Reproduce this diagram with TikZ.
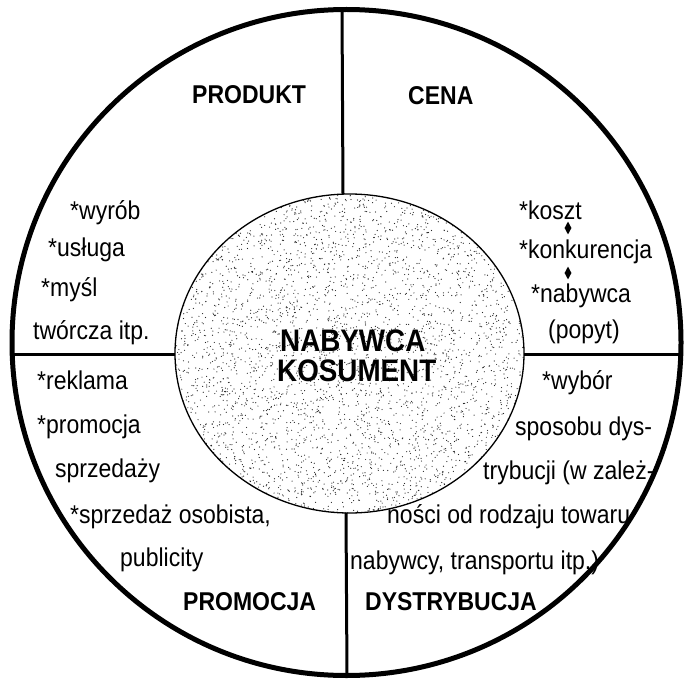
\documentclass[tikz,border=0pt]{standalone}
\usepackage{fontspec}
\setmainfont{Liberation Sans}
\usetikzlibrary{shapes.geometric}
\newcommand{\tallt}[1]{\scalebox{1}[1.12]{#1}}
\begin{document}
\begin{tikzpicture}[x=1pt,y=-1pt,
  txt/.style={anchor=base west,inner sep=0pt,font=\fontsize{23}{27}\selectfont},
  lbl/.style={anchor=base west,inner sep=0pt,font=\fontsize{23}{27}\selectfont\bfseries},
  biglbl/.style={anchor=base west,inner sep=0pt,font=\fontsize{27.8}{32}\selectfont\bfseries},
  divider/.style={line width=3pt},
  sep/.style={diamond,fill=black,inner sep=0pt,minimum width=7pt,minimum height=13pt}]
\useasboundingbox (0,0) rectangle (685,682);
\fill[white] (0,0) rectangle (685,682);
% stippled centre
\begin{scope}
  \clip (349.5,353.5) ellipse [x radius=174.5,y radius=159.5];
  \pgfmathsetseed{7}
  \foreach \i in {1,...,4200}{
    \pgfmathsetmacro{\px}{175+349*rnd}
    \pgfmathsetmacro{\py}{194+319*rnd}
    \fill[black!85] (\px,\py) circle (0.6pt);
  }
\end{scope}
\draw[line width=1.3pt] (349.5,353.5) ellipse [x radius=174.5,y radius=159.5];
\coordinate (ctop) at (343,194);
\coordinate (cbot) at (346,513);
\coordinate (cleft) at (175,354);
\coordinate (cright) at (524,354);
\coordinate (otop) at (342,9);
\coordinate (obot) at (347,676);
\coordinate (oleft) at (12,354);
\coordinate (oright) at (681,354);
\draw[divider] (otop) -- (ctop);
\draw[divider] (cbot) -- (obot);
\draw[divider] (oleft) -- (cleft);
\draw[divider] (cright) -- (oright);
\draw[line width=5pt] (346.5,342.5) ellipse [x radius=334.5,y radius=333];
% labels
\node[lbl] (produkt) at (192,104) {\tallt{PRODUKT}};
\node[lbl] (cena) at (408,105) {\tallt{CENA}};
\node[lbl] (promocja) at (183,610) {\tallt{PROMOCJA}};
\node[lbl] (dystr) at (365,610) {\tallt{DYSTRYBUCJA}};
\node[biglbl] (nab) at (280,351) {\tallt{NABYWCA}};
\node[biglbl] (kos) at (277,381) {\tallt{KOSUMENT}};
% produkt
\node[txt] (p1) at (70,219) {\tallt{*wyrób}};
\node[txt] (p2) at (48,256) {\tallt{*usługa}};
\node[txt] (p3) at (41,296) {\tallt{*myśl}};
\node[txt] (p4) at (33,339) {\tallt{twórcza itp.}};
% cena
\node[txt] (c1) at (519,219) {\tallt{*koszt}};
\node[sep] (d1) at (568,228) {};
\node[txt] (c2) at (519,258) {\tallt{*konkurencja}};
\node[sep] (d2) at (568,273) {};
\node[txt] (c3) at (531,302) {\tallt{*nabywca}};
\node[txt] (c4) at (548,338) {\tallt{(popyt)}};
% promocja
\node[txt] (m1) at (37,389) {\tallt{*reklama}};
\node[txt] (m2) at (37,433) {\tallt{*promocja}};
\node[txt] (m3) at (55,477) {\tallt{sprzedaży}};
\node[txt] (m4) at (70,523) {\tallt{*sprzedaż osobista,}};
\node[txt] (m5) at (120,566) {\tallt{publicity}};
% dystrybucja
\node[txt] (s1) at (542,389) {\tallt{*wybór}};
\node[txt] (s2) at (515,435) {\tallt{sposobu dys-}};
\node[txt] (s3) at (483,479) {\tallt{trybucji (w zależ-}};
\node[txt] (s4) at (387,523) {\tallt{ności od rodzaju towaru}};
\node[txt] (s5) at (350,569) {\tallt{nabywcy, transportu itp.)}};
\end{tikzpicture}
\end{document}
